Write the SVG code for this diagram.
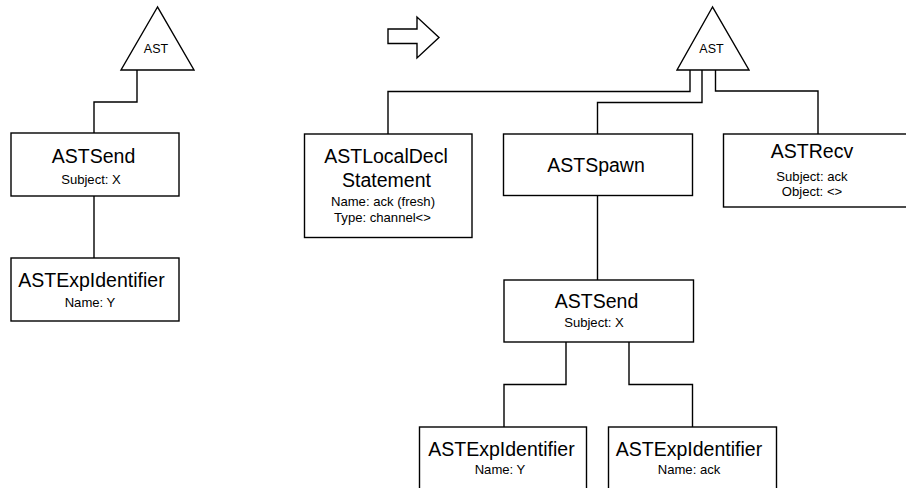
<svg xmlns="http://www.w3.org/2000/svg" width="906" height="488" viewBox="0 0 906 488">
<style>
  .shape { fill: #ffffff; stroke: #000000; stroke-width: 1.4; }
  .conn { fill: none; stroke: #000000; stroke-width: 1.4; }
  text { font-family: "Liberation Sans", Arial, sans-serif; fill: #000000; text-anchor: middle; }
  .big { font-size: 19.5px; }
  .small { font-size: 13.1px; }
  .tri { font-size: 12.5px; }
</style>
<rect x="0" y="0" width="906" height="488" fill="#ffffff"/>

<g id="connectors">
  <path class="conn" d="M137,70 V102 H94 V133"/>
  <path class="conn" d="M94,196 V258"/>
  <path class="conn" d="M690,70 V91.5 H388 V134"/>
  <path class="conn" d="M702,70 V102.5 H597.5 V134"/>
  <path class="conn" d="M715.5,70 V91 H818 V134"/>
  <path class="conn" d="M597.5,195.5 V280"/>
  <path class="conn" d="M566,342 V384.5 H504 V427"/>
  <path class="conn" d="M629,342 V384.5 H692.5 V427"/>
</g>

<g id="transform-arrow">
  <polygon class="shape" points="388,29 417,29 417,17 439,37.5 417,58 417,43.5 388,43.5"/>
</g>

<g id="ast-left">
  <polygon class="shape" points="157.5,7 121,70 194,70"/>
  <text class="tri" x="156" y="53">AST</text>
</g>

<g id="astsend-left">
  <rect class="shape" x="11" y="133" width="168" height="63"/>
  <text class="big" x="93.5" y="163">ASTSend</text>
  <text class="small" x="91" y="184">Subject: X</text>
</g>

<g id="astexpidentifier-left">
  <rect class="shape" x="11" y="258" width="168" height="63"/>
  <text class="big" x="91.5" y="287">ASTExpIdentifier</text>
  <text class="small" x="90" y="307">Name: Y</text>
</g>

<g id="ast-right">
  <polygon class="shape" points="712.5,7 677,70 749,70"/>
  <text class="tri" x="711.5" y="53">AST</text>
</g>

<g id="astlocaldecl">
  <rect class="shape" x="304.5" y="134" width="167.5" height="103.5"/>
  <text class="big" x="386" y="163.3">ASTLocalDecl</text>
  <text class="big" x="386.5" y="186.7">Statement</text>
  <text class="small" x="383" y="205.7">Name: ack (fresh)</text>
  <text class="small" x="382.5" y="222.3">Type: channel&lt;&gt;</text>
</g>

<g id="astspawn">
  <rect class="shape" x="503.5" y="134" width="189" height="61.5"/>
  <text class="big" x="596" y="171.5">ASTSpawn</text>
</g>

<g id="astrecv">
  <rect class="shape" x="723.5" y="134" width="190" height="73"/>
  <text class="big" x="812" y="158">ASTRecv</text>
  <text class="small" x="812" y="180.5">Subject: ack</text>
  <text class="small" x="812" y="196">Object: &lt;&gt;</text>
</g>

<g id="astsend-right">
  <rect class="shape" x="504" y="280" width="189.5" height="62"/>
  <text class="big" x="596.5" y="308.3">ASTSend</text>
  <text class="small" x="594" y="327.3">Subject: X</text>
</g>

<g id="astexpidentifier-y">
  <rect class="shape" x="419.5" y="427" width="167" height="70"/>
  <text class="big" x="501.5" y="456">ASTExpIdentifier</text>
  <text class="small" x="500" y="474.3">Name: Y</text>
</g>

<g id="astexpidentifier-ack">
  <rect class="shape" x="608.5" y="427" width="168" height="70"/>
  <text class="big" x="689" y="456">ASTExpIdentifier</text>
  <text class="small" x="689" y="474.3">Name: ack</text>
</g>
</svg>
